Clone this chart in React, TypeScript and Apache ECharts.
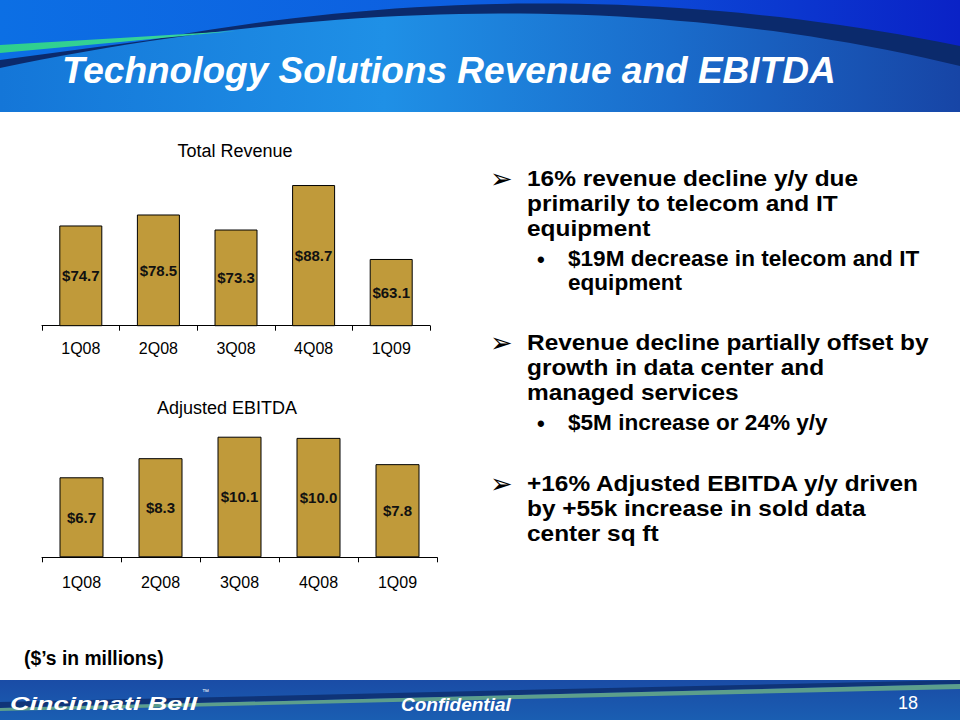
import React, { useEffect, useRef } from "react";
import * as echarts from "echarts";

const categories = ["1Q08", "2Q08", "3Q08", "4Q08", "1Q09"];
const revenue = [74.7, 78.5, 73.3, 88.7, 63.1];
const ebitda = [6.7, 8.3, 10.1, 10.0, 7.8];

const slideTitle = "Technology Solutions Revenue and EBITDA";
const chartTitles = ["Total Revenue", "Adjusted EBITDA"];
const unitsNote = "($\u2019s in millions)";

const bullet1 = ["16% revenue decline y/y due", "primarily to telecom and IT", "equipment"];
const sub1 = ["$19M decrease in telecom and IT", "equipment"];
const bullet2 = ["Revenue decline partially offset by", "growth in data center and", "managed services"];
const sub2 = ["$5M increase or 24% y/y"];
const bullet3 = ["+16% Adjusted EBITDA y/y driven", "by +55k increase in sold data", "center sq ft"];

const FONT = '"Liberation Sans", Arial, Helvetica, sans-serif';

function txt(
  text: string,
  x: number,
  y: number,
  size: number,
  opts: {
    weight?: string;
    style?: string;
    fill?: string;
    align?: string;
    valign?: string;
    family?: string;
    scaleX?: number;
    lh?: number;
  } = {}
) {
  const va = opts.valign ?? "middle";
  return {
    type: "text",
    x,
    y,
    scaleX: opts.scaleX ?? 1,
    z: 10,
    style: {
      text,
      fill: opts.fill ?? "#000",
      fontSize: size,
      fontWeight: opts.weight ?? "normal",
      fontStyle: opts.style ?? "normal",
      fontFamily: opts.family ?? FONT,
      lineHeight: opts.lh ?? Math.round(size * 1.1),
      align: opts.align ?? "left",
      verticalAlign: va,
      textAlign: opts.align ?? "left",
      textVerticalAlign: va,
    },
  };
}

function quadPoints(p0: number[], p1: number[], p2: number[], n: number) {
  const pts: number[][] = [];
  for (let i = 0; i <= n; i++) {
    const t = i / n;
    const a = (1 - t) * (1 - t);
    const b = 2 * (1 - t) * t;
    const c = t * t;
    pts.push([a * p0[0] + b * p1[0] + c * p2[0], a * p0[1] + b * p1[1] + c * p2[1]]);
  }
  return pts;
}

export default function App() {
  const ref = useRef<HTMLDivElement>(null);

  useEffect(() => {
    if (!ref.current) return;
    const chart = echarts.init(ref.current, undefined, { renderer: "svg" });

    const darkTop = [[0, 60], ...quadPoints([150, 40], [560, -36], [960, 46], 40)];
    const darkPoly = [...darkTop, [960, 112], [0, 112]];
    const lightTop = quadPoints([0, 68], [520, -40], [960, 66], 48);
    const lightPoly = [...lightTop, [960, 112], [0, 112]];

    const graphics: any[] = [
      // header
      {
        type: "rect",
        z: 1,
        shape: { x: 0, y: 0, width: 960, height: 112 },
        style: {
          fill: new echarts.graphic.LinearGradient(0, 0, 1, 0, [
            { offset: 0, color: "#0c6fe4" },
            { offset: 0.5, color: "#0d5ee0" },
            { offset: 1, color: "#0a22c6" },
          ]),
        },
      },
      { type: "polygon", z: 2, shape: { points: darkPoly }, style: { fill: "#0b2a6c" } },
      {
        type: "polygon",
        z: 3,
        shape: { points: lightPoly },
        style: {
          fill: new echarts.graphic.LinearGradient(0, 0, 1, 0, [
            { offset: 0, color: "#1476d8" },
            { offset: 0.4, color: "#1f90e6" },
            { offset: 0.7, color: "#1a6ccb" },
            { offset: 1, color: "#1745a6" },
          ]),
        },
      },
      {
        type: "polygon",
        z: 4,
        shape: { points: [[0, 45], [120, 38], [235, 31], [120, 42], [0, 53]] },
        style: {
          fill: new echarts.graphic.LinearGradient(0, 0, 1, 0, [
            { offset: 0, color: "#2fcf8c" },
            { offset: 1, color: "#3ad6a0" },
          ]),
        },
      },
      txt(slideTitle, 62, 70, 37, { weight: "bold", style: "italic", fill: "#ffffff" }),

      // footer
      {
        type: "rect",
        z: 1,
        shape: { x: 0, y: 680, width: 960, height: 40 },
        style: {
          fill: new echarts.graphic.LinearGradient(0, 0, 0, 1, [
            { offset: 0, color: "#1a4ca6" },
            { offset: 1, color: "#1a5eb2" },
          ]),
        },
      },
      { type: "polygon", z: 2, shape: { points: [[0, 702], [960, 680], [960, 684], [0, 708]] }, style: { fill: "#0f3478" } },
      { type: "polygon", z: 3, shape: { points: [[0, 708], [960, 684], [960, 689], [0, 711]] }, style: { fill: "#5c9e8c" } },
      txt("Cincinnati Bell", 10, 703, 19, { weight: "bold", style: "italic", fill: "#ffffff", scaleX: 1.42 }),
      txt("\u2122", 202, 691, 7, { fill: "#ffffff" }),
      txt("Confidential", 401, 704, 19, { weight: "bold", style: "italic", fill: "#ffffff" }),
      txt("18", 898, 703, 18, { fill: "#ffffff" }),

      // notes
      txt(unitsNote, 24, 658, 21, { weight: "bold", scaleX: 0.92 }),
      txt(chartTitles[0], 235, 151, 18, { align: "center" }),
      txt(chartTitles[1], 227, 408, 18, { align: "center" }),
    ];

    const arrowX = 490;
    const textX = 527;
    const dotX = 537;
    const subX = 568;
    const LH = 25;
    const SLH = 24;
    const addBullet = (lines: string[], firstY: number) => {
      graphics.push(txt("\u27A2", arrowX, firstY, 27, { family: '"DejaVu Sans", sans-serif', lh: 22 }));
      graphics.push(
        txt(lines.join("\n"), textX, firstY - LH / 2, 22.2, {
          weight: "bold",
          lh: LH,
          valign: "top",
          scaleX: 1.1,
        })
      );
    };
    const addSub = (lines: string[], firstY: number) => {
      graphics.push(txt("\u2022", dotX, firstY, 22, { weight: "bold", lh: 20 }));
      graphics.push(
        txt(lines.join("\n"), subX, firstY - SLH / 2, 21.3, {
          weight: "bold",
          lh: SLH,
          valign: "top",
          scaleX: 1.06,
        })
      );
    };
    addBullet(bullet1, 178);
    addSub(sub1, 259);
    addBullet(bullet2, 342);
    addSub(sub2, 423);
    addBullet(bullet3, 483);

    const xAxisBase = (gridIndex: number, margin: number) => ({
      type: "category",
      gridIndex,
      data: categories,
      axisLine: { show: true, lineStyle: { color: "#000", width: 1 } },
      axisTick: { show: true, length: 5, lineStyle: { color: "#000", width: 1 } },
      axisLabel: { color: "#000", fontSize: 16, fontFamily: FONT, margin },
      splitLine: { show: false },
    });

    const labelCfg = {
      show: true,
      position: "inside",
      color: "#111",
      fontSize: 15,
      fontWeight: "bold",
      fontFamily: FONT,
      formatter: (p: any) => "$" + Number(p.value).toFixed(1),
    };

    chart.setOption({
      animation: false,
      backgroundColor: "#ffffff",
      grid: [
        { left: 42, top: 152.4, width: 388, height: 173.3 },
        { left: 42, top: 414, width: 395, height: 143.3 },
      ],
      xAxis: [xAxisBase(0, 15), xAxisBase(1, 17)],
      yAxis: [
        { type: "value", gridIndex: 0, min: 40, max: 100, show: false },
        { type: "value", gridIndex: 1, min: 0, max: 12, show: false },
      ],
      series: [
        {
          type: "bar",
          xAxisIndex: 0,
          yAxisIndex: 0,
          data: revenue,
          barWidth: 43,
          itemStyle: { color: "#c09a3a", borderColor: "#000", borderWidth: 1 },
          label: labelCfg,
        },
        {
          type: "bar",
          xAxisIndex: 1,
          yAxisIndex: 1,
          data: ebitda,
          barWidth: 44,
          itemStyle: { color: "#c09a3a", borderColor: "#000", borderWidth: 1 },
          label: labelCfg,
        },
      ],
      graphic: { elements: graphics },
    });

    return () => chart.dispose();
  }, []);

  return (
    <div
      ref={ref}
      style={{ position: "absolute", left: 0, top: 0, width: 960, height: 720 }}
    />
  );
}
